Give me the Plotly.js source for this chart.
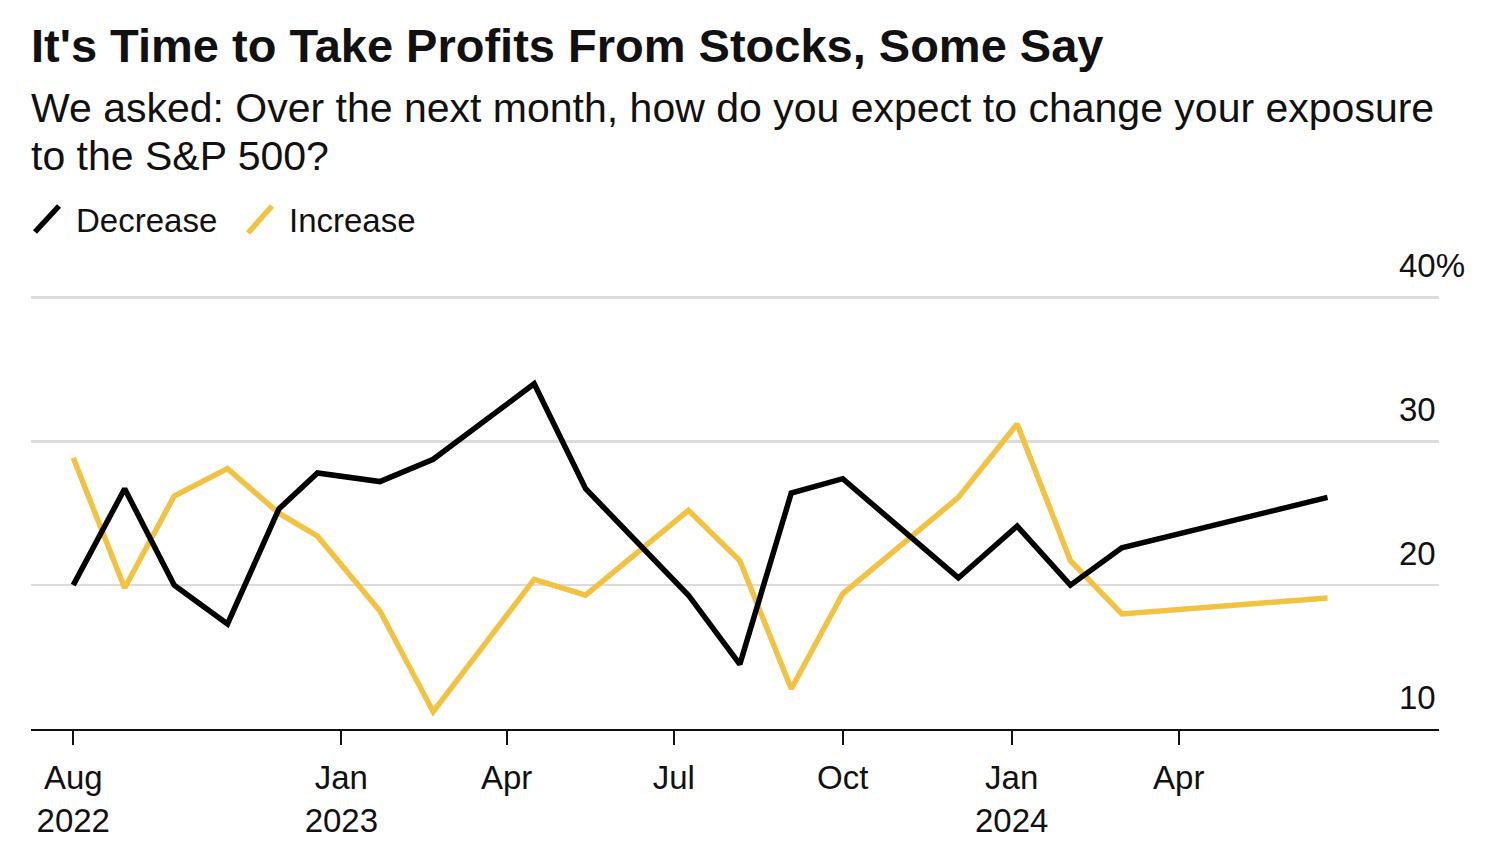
<!DOCTYPE html>
<html>
<head>
<meta charset="utf-8">
<script src="https://cdn.plot.ly/plotly-3.0.1.min.js"></script>
<style>
  html, body { margin: 0; padding: 0; background: #ffffff; }
  #chart { width: 1500px; height: 850px; }
</style>
</head>
<body>
<div id="chart"></div>
<script>
// ---- Data ----
const surveyDates = [
  '2022-08-08','2022-09-05','2022-10-02','2022-10-31','2022-11-28','2022-12-19',
  '2023-01-22','2023-02-20','2023-04-16','2023-05-14','2023-07-09','2023-08-06',
  '2023-09-03','2023-10-01','2023-12-03','2024-01-04','2024-02-02','2024-03-01',
  '2024-06-21'
];
const decreaseValues = [20.0, 26.7, 20.0, 17.3, 25.3, 27.8, 27.2, 28.75, 34.0, 26.7,
  19.3, 14.5, 26.4, 27.4, 20.5, 24.1, 20.0, 22.6, 26.1];
const increaseValues = [28.85, 19.8, 26.2, 28.1, 25.0, 23.4, 18.2, 11.2, 20.4, 19.3,
  25.2, 21.7, 12.8, 19.4, 26.1, 31.2, 21.7, 18.0, 19.1];

const seriesNames = ['Decrease', 'Increase'];
const xTickVals = ['2022-08-08','2023-01-01','2023-04-01','2023-07-01','2023-10-01','2024-01-01','2024-04-01'];
const xTickText = ['Aug<br>2022','Jan<br>2023','Apr','Jul','Oct','Jan<br>2024','Apr'];
const yTickVals = [10, 20, 30, 40];
const yTickText = ['10', '20', '30', '40%'];

const titleText = "It's Time to Take Profits From Stocks, Some Say";
const subtitleLines = [
  'We asked: Over the next month, how do you expect to change your exposure',
  'to the S&P 500?'
];

// ---- Styling ----
const FONT = '"Liberation Sans", Arial, Helvetica, sans-serif';
const BLACK = '#000000';
const YELLOW = '#f1c340';
const LW = 5.5;

const traces = [
  { x: surveyDates, y: decreaseValues, name: seriesNames[0], type: 'scatter', mode: 'lines',
    line: { color: BLACK, width: LW }, hoverinfo: 'x+y' },
  { x: surveyDates, y: increaseValues, name: seriesNames[1], type: 'scatter', mode: 'lines',
    line: { color: YELLOW, width: LW }, hoverinfo: 'x+y' }
];
// draw black on top
traces.reverse();

const annotations = [];
// subtitle
annotations.push({ xref: 'paper', yref: 'paper', x: 0, y: 1.434, xanchor: 'left', yanchor: 'middle',
  text: subtitleLines[0], showarrow: false, font: { family: FONT, size: 41, color: '#111' }, xshift: -2 });
annotations.push({ xref: 'paper', yref: 'paper', x: 0, y: 1.3233, xanchor: 'left', yanchor: 'middle',
  text: subtitleLines[1], showarrow: false, font: { family: FONT, size: 41, color: '#111' }, xshift: -2 });
// legend labels
annotations.push({ xref: 'paper', yref: 'paper', x: (76 - 31) / 1408, y: 1.1755, xanchor: 'left', yanchor: 'middle',
  text: seriesNames[0], showarrow: false, font: { family: FONT, size: 33, color: '#111' }, xshift: -2 });
annotations.push({ xref: 'paper', yref: 'paper', x: (289 - 31) / 1408, y: 1.1755, xanchor: 'left', yanchor: 'middle',
  text: seriesNames[1], showarrow: false, font: { family: FONT, size: 33, color: '#111' }, xshift: -2 });
// y tick labels (sit above their gridlines, inside the right end)
yTickVals.forEach((v, i) => {
  annotations.push({ xref: 'paper', yref: 'y', x: 1, y: v, xanchor: 'left', yanchor: 'middle',
    xshift: -42, yshift: 32, text: yTickText[i], showarrow: false,
    font: { family: FONT, size: 33, color: '#111' } });
});

const shapes = [
  { type: 'line', xref: 'paper', yref: 'paper',
    x0: (35 - 31) / 1408, y0: (729 - 232) / 433, x1: (59 - 31) / 1408, y1: (729 - 206) / 433,
    line: { color: BLACK, width: LW } },
  { type: 'line', xref: 'paper', yref: 'paper',
    x0: (248 - 31) / 1408, y0: (729 - 233) / 433, x1: (272 - 31) / 1408, y1: (729 - 206) / 433,
    line: { color: YELLOW, width: LW } }
];

const layout = {
  width: 1500, height: 850,
  margin: { l: 31, r: 61, t: 296, b: 121, pad: 0 },
  paper_bgcolor: '#ffffff', plot_bgcolor: '#ffffff',
  showlegend: false,
  font: { family: FONT, color: '#111', size: 33 },
  title: { text: '<b>' + titleText + '</b>', xref: 'container', yref: 'container',
    x: 31 / 1500, xanchor: 'left', y: (850 - 46) / 850, yanchor: 'middle',
    font: { family: FONT, size: 47, color: '#111' }, pad: { l: 0, t: 0, b: 0, r: 0 } },
  xaxis: {
    type: 'date',
    range: ['2022-07-16', '2024-08-20 17:00'],
    tickvals: xTickVals, ticktext: xTickText,
    showline: true, linecolor: '#111', linewidth: 2,
    ticks: 'outside', ticklen: 14, tickwidth: 2, tickcolor: '#111',
    ticklabelstandoff: 4,
    showgrid: false, zeroline: false,
    tickfont: { family: FONT, size: 33, color: '#111' },
    fixedrange: true
  },
  yaxis: {
    range: [10, 40.1], side: 'right',
    tickvals: yTickVals, showticklabels: false,
    showgrid: true, gridcolor: '#dcdcdc', gridwidth: 2.5,
    zeroline: false, showline: false, ticks: '',
    fixedrange: true
  },
  annotations: annotations,
  shapes: shapes
};

Plotly.newPlot('chart', traces, layout, { displayModeBar: false, staticPlot: true });
</script>
</body>
</html>
